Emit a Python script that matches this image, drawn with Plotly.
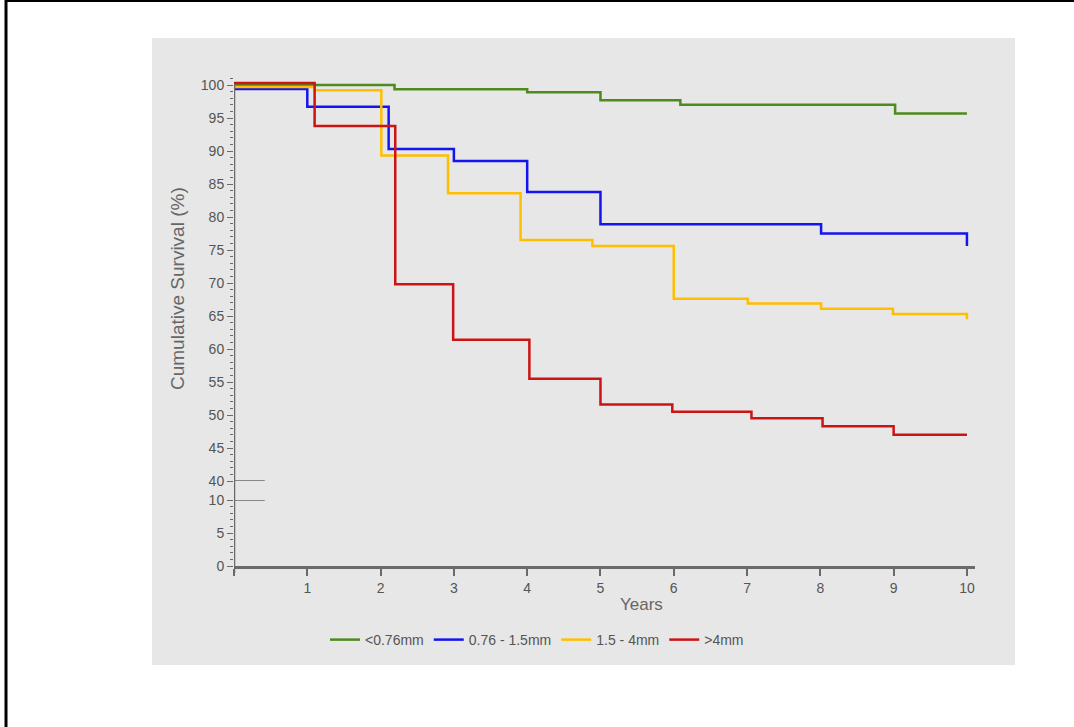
import plotly.graph_objects as go

# ---------------- data ----------------
groups = ["<0.76mm", "0.76 - 1.5mm", "1.5 - 4mm", ">4mm"]
colors = ["#4e8a1c", "#1414f0", "#ffbf00", "#cc1414"]

green_t = [0, 2.19, 4.0, 5.0, 6.09, 9.02, 10]
green_s = [100.0, 99.35, 98.9, 97.7, 97.0, 95.7, 95.7]

blue_t = [0, 1.0, 2.11, 3.0, 4.0, 5.0, 8.01, 10, 10]
blue_s = [99.4, 96.7, 90.3, 88.5, 83.8, 78.9, 77.5, 77.5, 75.6]

yellow_t = [0, 1.1, 2.01, 2.92, 3.91, 4.89, 6.0, 7.01, 8.01, 8.99, 10, 10]
yellow_s = [99.7, 99.2, 89.3, 83.6, 76.5, 75.6, 67.6, 66.9, 66.1, 65.3, 65.3, 64.5]

red_t = [0, 1.1, 2.2, 2.99, 4.03, 5.0, 5.98, 7.06, 8.03, 9.0, 10]
red_s = [100.3, 93.8, 69.8, 61.4, 55.5, 51.6, 50.5, 49.5, 48.3, 47.0, 47.0]

upper_ticks = list(range(40, 101, 5))
lower_ticks = [0, 5, 10]
x_ticks = list(range(0, 11))
x_ticklabels = [""] + [str(i) for i in range(1, 11)]

series = [(green_t, green_s), (blue_t, blue_s), (yellow_t, yellow_s), (red_t, red_s)]

# ---------------- layout geometry ----------------
W, H = 1074, 727
ML, MR, MT, MB = 234, 99, 78, 161
PW = W - ML - MR
PH = H - MT - MB

def px_x(p):
    return (p - ML) / PW

def px_y(p):
    return (H - MB - p) / PH

AX = "#6a6a6a"
TXT = "#555555"
FONT = "Liberation Sans, Arial, sans-serif"

fig = go.Figure()
for name, col, (t, s) in zip(groups, colors, series):
    fig.add_trace(go.Scatter(
        x=t, y=s, mode="lines", name=name, line_shape="hv",
        line=dict(color=col, width=2.5), xaxis="x", yaxis="y",
    ))

upper_dom = [px_y(481), 1.0]
lower_dom = [0.0, px_y(500)]

fig.update_layout(
    width=W, height=H,
    margin=dict(l=ML, r=MR, t=MT, b=MB),
    paper_bgcolor="white", plot_bgcolor="rgba(0,0,0,0)",
    font=dict(family=FONT, color=TXT, size=14),
    showlegend=True,
    legend=dict(orientation="h", x=px_x(325), xanchor="left", y=px_y(640), yanchor="middle",
                font=dict(size=14, color=TXT), bgcolor="rgba(0,0,0,0)", itemwidth=30),
    xaxis=dict(range=[0, 10.11], anchor="y2", showgrid=False, zeroline=False,
               showline=True, linecolor=AX, linewidth=2.5,
               tickmode="array", tickvals=x_ticks, ticktext=x_ticklabels,
               ticks="outside", ticklen=7, tickcolor=AX, tickwidth=1.5,
               tickfont=dict(size=14, color=TXT)),
    yaxis=dict(domain=upper_dom, range=[40, 40 + (481 - 78) / 6.6], anchor="x",
               showgrid=False, zeroline=False, showline=False,
               tickmode="array", tickvals=upper_ticks,
               ticks="outside", ticklen=6, tickcolor=AX, tickwidth=1,
               minor=dict(dtick=1, tick0=40, ticks="outside", ticklen=3, tickcolor=AX, tickwidth=1),
               tickfont=dict(size=14, color=TXT)),
    yaxis2=dict(domain=lower_dom, range=[0, 10], anchor="x",
                showgrid=False, zeroline=False, showline=False,
                tickmode="array", tickvals=lower_ticks,
                ticks="outside", ticklen=6, tickcolor=AX, tickwidth=1,
                minor=dict(dtick=1, tick0=0, ticks="outside", ticklen=3, tickcolor=AX, tickwidth=1),
                tickfont=dict(size=14, color=TXT)),
)

shapes = [
    # dithered grey panel
    dict(type="rect", xref="paper", yref="paper", x0=px_x(152), x1=px_x(1015),
         y0=px_y(665), y1=px_y(38), fillcolor="#e7e7e7", line=dict(width=0), layer="below"),
    # outer frame (left + top)
    dict(type="line", xref="paper", yref="paper", x0=px_x(6), x1=px_x(6),
         y0=px_y(H + 2), y1=px_y(0), line=dict(color="black", width=3)),
    dict(type="line", xref="paper", yref="paper", x0=px_x(5), x1=px_x(W + 2),
         y0=px_y(1), y1=px_y(1), line=dict(color="black", width=2)),
    # y axis line (continuous through break)
    dict(type="line", xref="x", yref="paper", x0=0, x1=0, y0=px_y(573), y1=px_y(84),
         line=dict(color=AX, width=2.5)),
    # break markers
    dict(type="line", xref="x", yref="y", x0=0, x1=0.42, y0=40, y1=40, line=dict(color=AX, width=1.5)),
    dict(type="line", xref="x", yref="y2", x0=0, x1=0.42, y0=10, y1=10, line=dict(color=AX, width=1.5)),
]
fig.update_layout(shapes=shapes)

fig.add_annotation(text="Cumulative Survival (%)", xref="paper", yref="paper",
                   x=px_x(177), y=px_y(289), xanchor="center", yanchor="middle",
                   textangle=-90, showarrow=False,
                   font=dict(size=19, color="#666666"))
fig.add_annotation(text="Years", xref="paper", yref="paper",
                   x=px_x(641), y=px_y(604), xanchor="center", yanchor="middle",
                   showarrow=False,
                   font=dict(size=17, color="#666666"))

fig.write_html("out.html", config={"displayModeBar": False},
               post_script="document.body.style.margin='0px';")
